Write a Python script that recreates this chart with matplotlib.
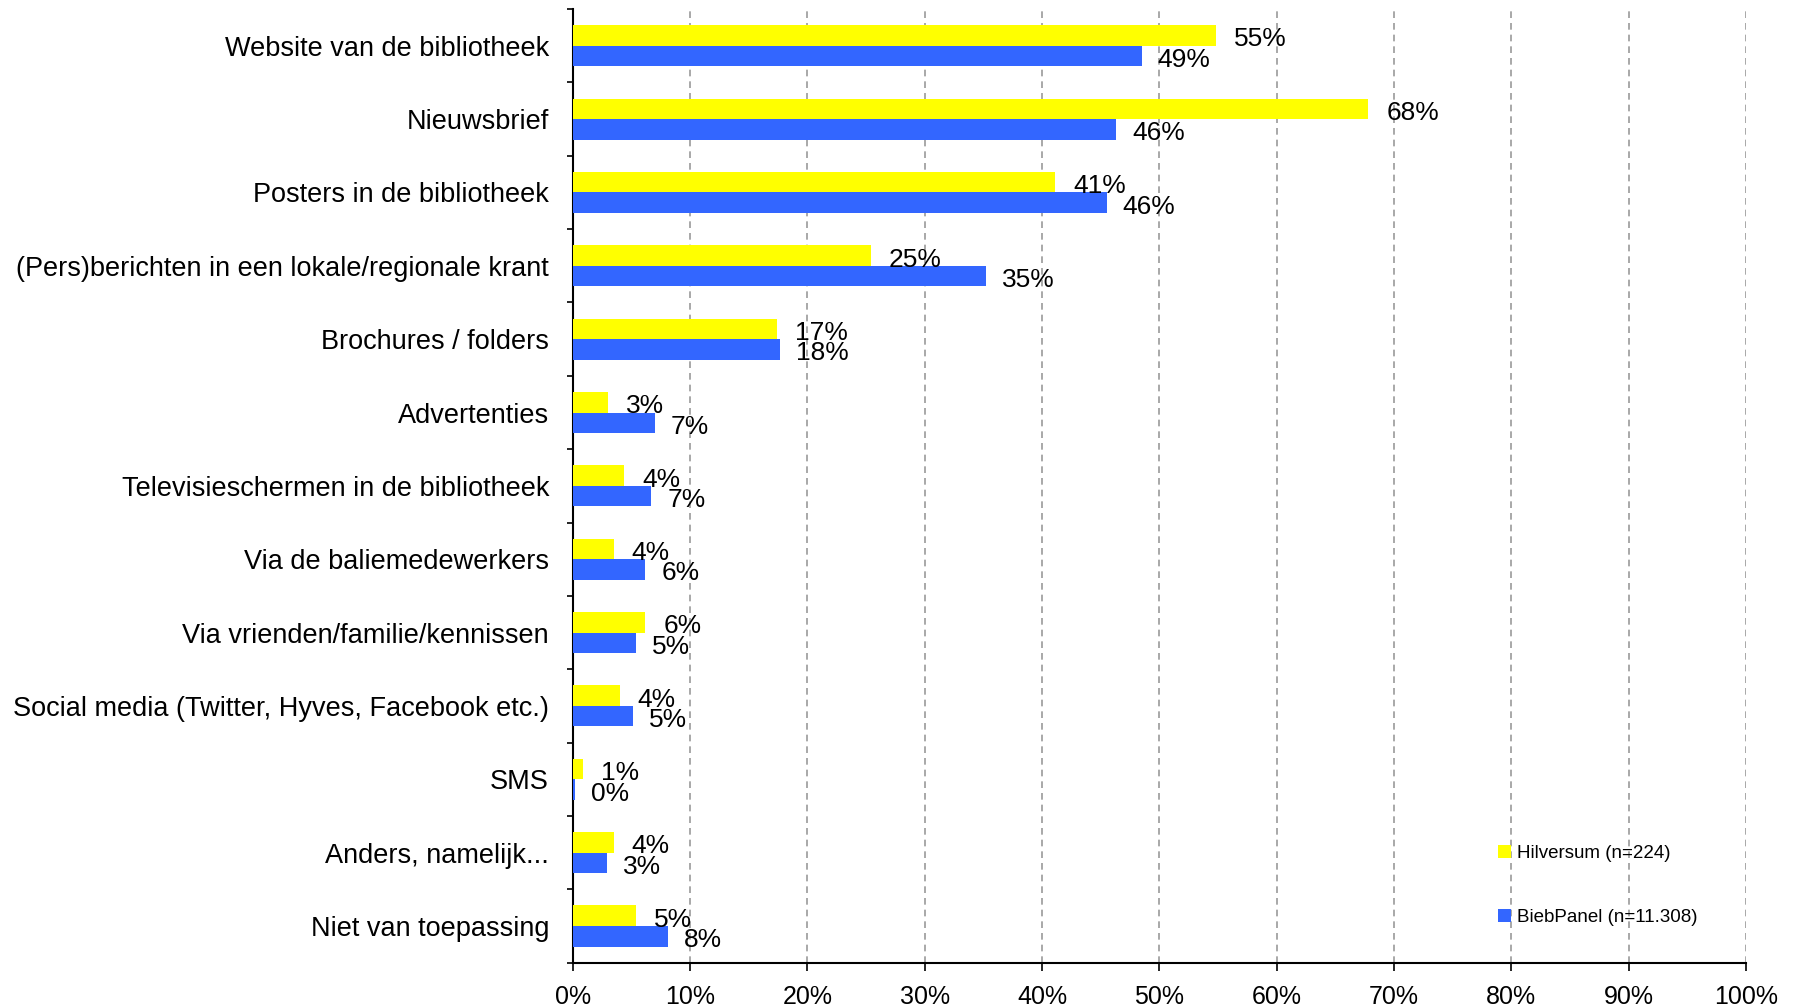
import matplotlib.pyplot as plt
import numpy as np

plt.rcParams['font.family'] = ['Liberation Sans', 'DejaVu Sans']

categories = [
    "Website van de bibliotheek",
    "Nieuwsbrief",
    "Posters in de bibliotheek",
    "(Pers)berichten in een lokale/regionale krant",
    "Brochures / folders",
    "Advertenties",
    "Televisieschermen in de bibliotheek",
    "Via de baliemedewerkers",
    "Via vrienden/familie/kennissen",
    "Social media (Twitter, Hyves, Facebook etc.)",
    "SMS",
    "Anders, namelijk...",
    "Niet van toepassing",
]
hilversum = [54.8, 67.8, 41.1, 25.4, 17.4, 3.0, 4.4, 3.5, 6.2, 4.0, 0.9, 3.5, 5.4]
biebpanel = [48.5, 46.3, 45.5, 35.2, 17.7, 7.0, 6.7, 6.2, 5.4, 5.1, 0.2, 2.9, 8.1]
labels_h = ["55%", "68%", "41%", "25%", "17%", "3%", "4%", "4%", "6%", "4%", "1%", "4%", "5%"]
labels_b = ["49%", "46%", "46%", "35%", "18%", "7%", "7%", "6%", "5%", "5%", "0%", "3%", "8%"]
ticks = np.arange(0, 101, 10)

fig = plt.figure(figsize=(18.01, 10.08), dpi=100)
ax = fig.add_axes([0.318, 0.045, 0.6515, 0.946])

y = np.arange(len(categories))
h = 0.28
ax.barh(y - h / 2, hilversum, height=h, color="#FFFF00", label="Hilversum (n=224)", zorder=3)
ax.barh(y + h / 2, biebpanel, height=h, color="#3366FF", label="BiebPanel (n=11.308)", zorder=3)

# waardelabels naast de balken
for i in range(len(categories)):
    ax.annotate(labels_h[i], (hilversum[i], y[i] - h / 2), xytext=(18, -4), textcoords="offset pixels",
                va="center", ha="left", fontsize=19, zorder=4)
    ax.annotate(labels_b[i], (biebpanel[i], y[i] + h / 2), xytext=(16, -4), textcoords="offset pixels",
                va="center", ha="left", fontsize=19, zorder=4)

ax.set_ylim(len(categories) - 0.5, -0.5)
ax.set_xlim(0, 100)
ax.set_yticks(y)
ax.set_yticklabels(categories, fontsize=19.5)
ax.set_yticks(np.arange(-0.5, len(categories), 1), minor=True)
ax.tick_params(axis="y", which="major", length=0, pad=17)
ax.tick_params(axis="y", which="minor", length=4, width=1.2, direction="out")
ax.set_xticks(ticks)
ax.set_xticklabels([f"{t}%" for t in ticks], fontsize=18)
ax.tick_params(axis="x", length=6, width=1.2, direction="out", pad=10)

ax.grid(axis="x", linestyle=(0, (4, 3)), color="#999999", linewidth=1.2, zorder=0)
for s in ["top", "right"]:
    ax.spines[s].set_visible(False)
ax.spines["left"].set_linewidth(1.5)
ax.spines["bottom"].set_linewidth(1.5)

ax.legend(loc="upper left", bbox_to_anchor=(0.774, 0.141), frameon=False, fontsize=13.5,
          handlelength=0.7, handleheight=0.7, handletextpad=0.3, labelspacing=2.5)

fig.savefig("out.png", dpi=100)
